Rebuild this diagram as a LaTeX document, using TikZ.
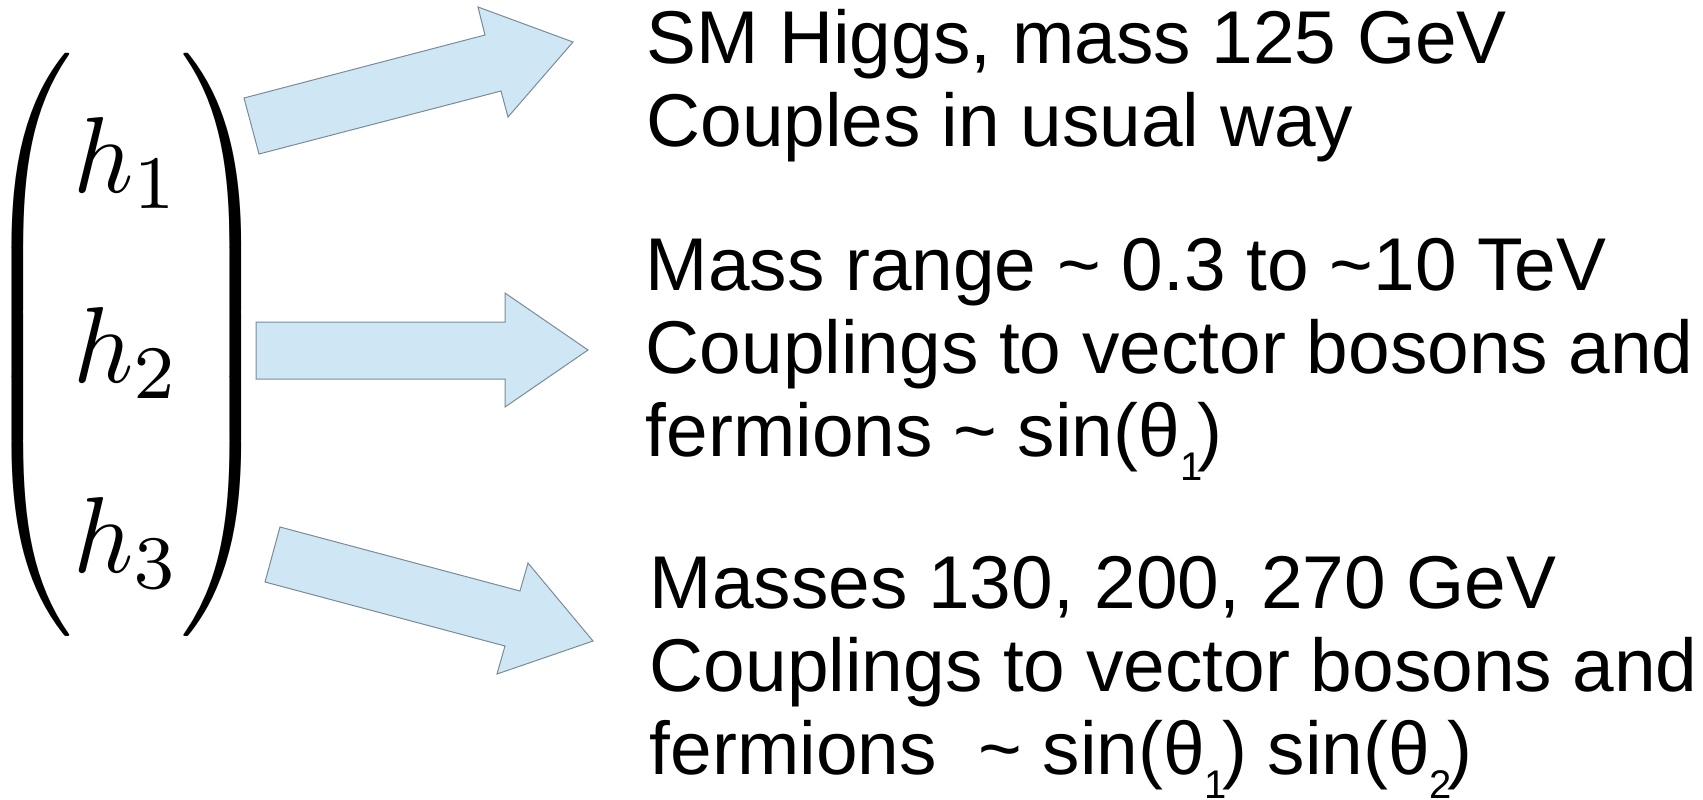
\documentclass[tikz,border=0pt]{standalone}
\usepackage{amsmath}
\usepackage[no-math]{fontspec}
\newfontfamily\arialf{Liberation Sans}
\definecolor{arrowfill}{RGB}{207,231,245}
\definecolor{arrowline}{RGB}{122,138,153}
\newcommand\lowsub[1]{\raisebox{-12pt}{\fontsize{20}{22}\selectfont #1}\kern-2.5pt}
\tikzset{
  blockarrow/.style={fill=arrowfill, draw=arrowline, line width=0.5pt, line join=miter},
  txt/.style={anchor=base west, inner sep=0pt, font=\arialf\fontsize{37.4}{41.5}\selectfont}
}
\begin{document}
\begin{tikzpicture}[x=0.5pt,y=-0.5pt]
\useasboundingbox (0,0) rectangle (1703,799);
% vector
\begin{scope}[shift={(127,344.5)}]
\node[inner sep=0pt, xscale=5.24, yscale=5.4, transform shape, font=\fontsize{10}{12}\selectfont] (vec) at (0,0)
  {$\delimiterfactor=1000\delimitershortfall=0pt\renewcommand{\arraystretch}{1.466}\begin{pmatrix} h_1\\ h_2\\ h_3\end{pmatrix}$};
\end{scope}
% arrows
\draw[blockarrow] (244,98) -- (485,35) -- (478,7) -- (573,42) -- (508,117) -- (501,91) -- (259,154) -- cycle;
\draw[blockarrow] (256,322) -- (505,322) -- (505,293) -- (588,350) -- (505,407) -- (505,379) -- (256,379) -- cycle;
\draw[blockarrow] (280,527) -- (520,591) -- (528,563) -- (593,641) -- (497,674) -- (505,646) -- (265,582) -- cycle;
% texts
\node[txt] (b1) at (646,63) {\begin{tabular}[t]{@{}l@{}}SM Higgs, mass 125 GeV\\Couples in usual way\end{tabular}};
\node[txt] (b2) at (645.5,290) {\begin{tabular}[t]{@{}l@{}}Mass range \textasciitilde{} 0.3 to \textasciitilde10 TeV\\Couplings to vector bosons and\\fermions \textasciitilde{} sin(θ\lowsub{1})\end{tabular}};
\node[txt] (b3) at (649.5,608) {\begin{tabular}[t]{@{}l@{}}Masses 130, 200, 270 GeV\\Couplings to vector bosons and\\fermions\ \ \textasciitilde{} sin(θ\lowsub{1}) sin(θ\lowsub{2})\end{tabular}};
\end{tikzpicture}
\end{document}
